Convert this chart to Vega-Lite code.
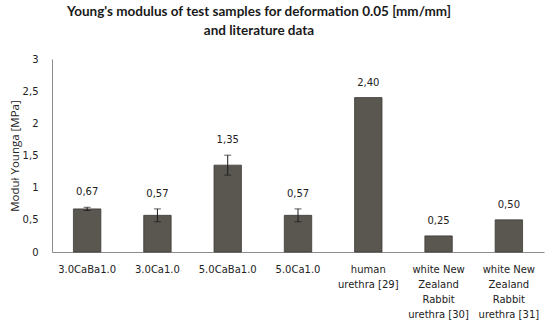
{
  "$schema": "https://vega.github.io/schema/vega-lite/v6.json",
  "width": 492,
  "height": 193,
  "autosize": "none",
  "padding": {"left": 52, "top": 59, "right": 6, "bottom": 77},
  "background": "white",
  "config": {
    "locale": {"number": {"decimal": ",", "thousands": " ", "grouping": [3], "currency": ["", ""]}},
    "view": {"stroke": null},
    "axis": {"labelFont": "DejaVu Sans", "labelFontSize": 10, "labelColor": "#222222", "domainColor": "#8c8c8c", "grid": false, "ticks": false}
  },
  "title": {
    "text": ["Young's modulus of test samples for deformation 0.05 [mm/mm]", "and literature data"],
    "font": "Lato",
    "fontSize": 13.5,
    "fontWeight": "bold",
    "color": "#1a1a1a",
    "anchor": "middle",
    "frame": "group",
    "dx": -39,
    "offset": 17,
    "lineHeight": 19
  },
  "resolve": {"axis": {"y": "independent"}},
  "data": {
    "values": [
      {"sample": "3.0CaBa1.0", "value": 0.67, "lo": 0.645, "hi": 0.695},
      {"sample": "3.0Ca1.0", "value": 0.57, "lo": 0.47, "hi": 0.67},
      {"sample": "5.0CaBa1.0", "value": 1.35, "lo": 1.195, "hi": 1.505},
      {"sample": "5.0Ca1.0", "value": 0.57, "lo": 0.47, "hi": 0.67},
      {"sample": "human urethra [29]", "value": 2.40, "lo": 2.40, "hi": 2.40},
      {"sample": "white New Zealand Rabbit urethra [30]", "value": 0.25, "lo": 0.25, "hi": 0.25},
      {"sample": "white New Zealand Rabbit urethra [31]", "value": 0.50, "lo": 0.50, "hi": 0.50}
    ]
  },
  "encoding": {
    "x": {
      "field": "sample",
      "type": "nominal",
      "sort": null,
      "scale": {"paddingInner": 0, "paddingOuter": 0},
      "axis": {
        "title": null,
        "labelAngle": 0,
        "labelPadding": 12,
        "labelLineHeight": 15,
        "labelBaseline": "top",
        "labelExpr": "datum.label == 'human urethra [29]' ? ['human', 'urethra [29]'] : indexof(datum.label, 'Rabbit') >= 0 ? ['white New', 'Zealand', 'Rabbit', slice(datum.label, 25)] : datum.label"
      }
    }
  },
  "layer": [
    {
      "mark": {"type": "bar", "width": {"band": 0.39}, "fill": "#5a5751", "stroke": "#3c3a36", "strokeWidth": 0.8},
      "encoding": {
        "y": {
          "field": "value",
          "type": "quantitative",
          "scale": {"domain": [0, 3], "nice": false},
          "axis": {
            "values": [0, 0.5, 1, 1.5, 2, 2.5, 3],
            "format": ".1~f",
            "labelOverlap": false,
            "labelPadding": 14,
            "title": "Moduł Younga [MPa]",
            "titleFont": "Open Sans",
            "titleFontSize": 11.5,
            "titleFontWeight": "normal",
            "titleColor": "#222222",
            "titlePadding": 2
          }
        }
      }
    },
    {
      "transform": [{"filter": "datum.hi > datum.lo"}],
      "mark": {"type": "rule", "color": "#1a1a1a", "strokeWidth": 1},
      "encoding": {
        "y": {"field": "lo", "type": "quantitative", "axis": null},
        "y2": {"field": "hi"}
      }
    },
    {
      "transform": [{"filter": "datum.hi > datum.lo"}],
      "mark": {"type": "tick", "color": "#1a1a1a", "size": 7, "thickness": 1},
      "encoding": {"y": {"field": "lo", "type": "quantitative", "axis": null}}
    },
    {
      "transform": [{"filter": "datum.hi > datum.lo"}],
      "mark": {"type": "tick", "color": "#1a1a1a", "size": 7, "thickness": 1},
      "encoding": {"y": {"field": "hi", "type": "quantitative", "axis": null}}
    },
    {
      "mark": {"type": "text", "font": "DejaVu Sans", "fontSize": 10, "color": "#222222", "dy": -15, "baseline": "middle"},
      "encoding": {
        "y": {"field": "hi", "type": "quantitative", "axis": null},
        "text": {"field": "value", "type": "quantitative", "format": ".2f"}
      }
    }
  ]
}
